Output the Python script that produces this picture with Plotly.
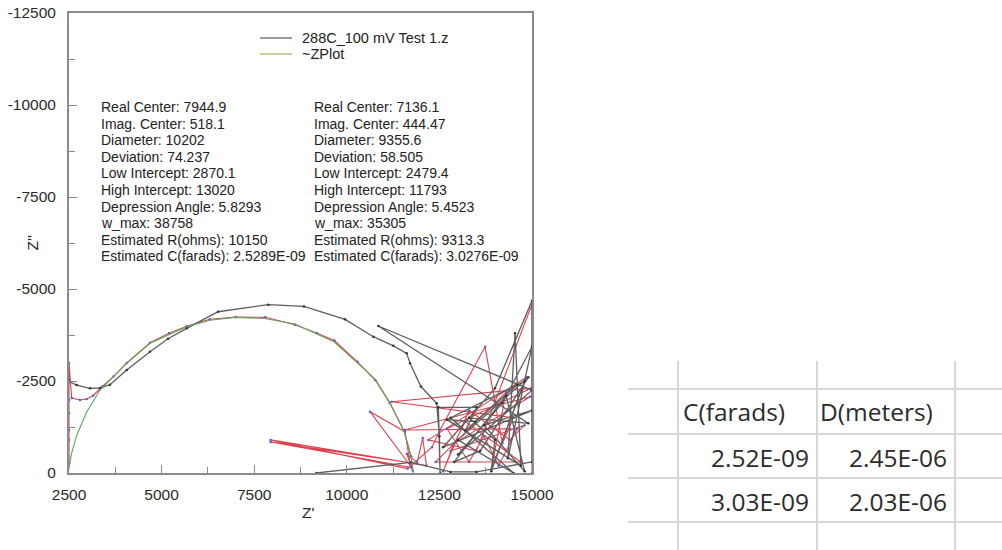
import plotly.graph_objects as go

# ---- figure size (pixels) ----
W, H = 1002, 550

# ---- axes ----
x_ticks = [2500, 5000, 7500, 10000, 12500, 15000]
x_tick_text = ["2500", "5000", "7500", "10000", "12500", "15000"]
x_minor = [3750, 6250, 8750, 11250, 13750]
y_ticks = [0, -2500, -5000, -7500, -10000, -12500]
y_tick_text = ["0", "-2500", "-5000", "-7500", "-10000", "-12500"]
y_minor = [-1250, -3750, -6250, -8750, -11250]

# ---- measured spectrum, test 1 (gray) : Z' and Z'' in ohms ----
test1_zr = [2500, 2707, 3067, 3337, 3607, 4058, 4687, 5174, 5678, 6525, 7877, 8842,
            9952, 10717, 11255, 11617, 11707, 12000, 12427, 12500, 12517, 12472, 13507,
            13200, 14600, 13462, 12700, 14700, 14542, 14350, 15000, 14200, 13000, 15000,
            10852, 14900, 13300, 14000, 13900, 14800, 12800, 14500, 13000, 14900, 13600,
            12900, 14300, 14800, 13700, 15000, 12600, 14000, 15000, 15000, 13500, 12800,
            11738, 9180]
test1_zi = [-2490, -2391, -2301, -2310, -2400, -2798, -3296, -3650, -3931, -4382, -4573, -4527,
            -4175, -3704, -3455, -3251, -2980, -2350, -1893, -1000, -10, -1784, -1784,
            -1150, -2400, -1395, -1450, -200, -3795, -400, -3432, -1900, -500, -2250,
            -3994, -1350, -1500, -900, -50, -2500, -1500, 0, -900, -2600, -600,
            -300, -2100, -50, -1300, -1700, -700, -2300, -4680, -300, -30, -30,
            -291, 0]

# ---- measured spectrum, second run (red) ----
test2_zr = [2500, 2500, 2500, 2500, 2500, 2500, 2500, 2573, 2797, 2978, 3150, 3400, 3700,
            4058, 4687, 5200, 5678, 6300, 7000, 7800, 8600, 9200, 9663, 10290, 10773,
            11159, 11545, 11738, 11780, 11620, 11900, 12050, 12150, 11707, 11572, 10627,
            11750, 7944, 11740, 7944, 11640, 12300, 12517, 13732, 14200, 14500, 11212,
            14974, 12700, 13300, 13700, 14100, 14600, 11572, 14947, 12900, 12600, 13300,
            14400, 14800, 12800, 13200, 14700, 12400, 14300, 13900, 14850, 12200, 13500,
            15000, 15000]
test2_zi = [-272, -897, -1168, -1630, -1983, -2527, -2990, -2038, -1983, -2010, -2100, -2350, -2620,
            -2990, -3540, -3800, -3990, -4180, -4240, -4230, -4030, -3800, -3600, -3020, -2520,
            -1900, -1150, -455, -60, -520, -280, -950, -200, -263, -1123, -1666,
            -150, -845, -273, -900, -120, -700, -1168, -3432, -800, -1500, -1938,
            -2300, -1200, -300, -1000, -200, -1200, -1168, -2074, -800, -50, -1700,
            -900, -1300, -600, -1400, -300, -300, -2200, -100, -2600, -900, -600,
            -4590, 0]

# ---- ~ZPlot circle fit (green) ----
fit_zr = [2480, 2560, 2707, 2978, 3337, 4058, 4687, 5678, 6300, 7000, 7780, 8600, 9663,
          10290, 10773, 11159, 11545, 11738, 11800]
fit_zi = [0, -500, -1020, -1660, -2255, -2980, -3524, -3975, -4150, -4230, -4200, -4050, -3560,
          -3000, -2545, -1920, -1130, -420, 0]

# ---- legend ----
legend_names = ["288C_100 mV Test 1.z", "~ZPlot"]
legend_colors = ["#777777", "#b8c27a"]

# ---- fit results ----
stat_names = ["Real Center", "Imag. Center", "Diameter", "Deviation", "Low Intercept",
              "High Intercept", "Depression Angle", "w_max", "Estimated R(ohms)",
              "Estimated C(farads)"]
fit1_values = ["7944.9", "518.1", "10202", "74.237", "2870.1", "13020", "5.8293", "38758",
               "10150", "2.5289E-09"]
fit2_values = ["7136.1", "444.47", "9355.6", "58.505", "2479.4", "11793", "5.4523", "35305",
               "9313.3", "3.0276E-09"]

# ---- side table ----
table_header = ["C(farads)", "D(meters)"]
table_c = ["2.52E-09", "3.03E-09"]
table_d = ["2.45E-06", "2.03E-06"]

GRAY = "#5e5e5e"
RED = "#d9434f"
GREEN = "#5ea55e"
AXIS = "#8a8a8a"
TXT = "#222222"


def fx(px):
    return px / W


def fy(py):
    return 1 - py / H


fig = go.Figure()

fig.add_trace(go.Scatter(x=test2_zr, y=test2_zi, mode="lines+markers",
                         line=dict(color=RED, width=1.1),
                         marker=dict(color="#6a5acd", size=2.5),
                         showlegend=False, hoverinfo="x+y"))
fig.add_trace(go.Scatter(x=test1_zr, y=test1_zi, mode="lines+markers",
                         line=dict(color=GRAY, width=1.3),
                         marker=dict(color="#333333", size=2.5),
                         showlegend=False, hoverinfo="x+y"))
fig.add_trace(go.Scatter(x=fit_zr, y=fit_zi, mode="lines",
                         line=dict(color=GREEN, width=1.1),
                         showlegend=False, hoverinfo="x+y"))

annotations = []
shapes = []

# legend: short line samples with names
for i, (name, col) in enumerate(zip(legend_names, legend_colors)):
    yy = 38 + i * 16
    shapes.append(dict(type="line", xref="paper", yref="paper", x0=fx(260), x1=fx(292),
                       y0=fy(yy), y1=fy(yy), line=dict(color=col, width=1.5)))
    annotations.append(dict(x=fx(300), y=fy(yy), xref="paper", yref="paper",
                            xanchor="left", yanchor="middle", showarrow=False, text=name,
                            font=dict(family="Arial", size=14.5, color=TXT)))

line_y0, line_step = 107, 16.6
for i, name in enumerate(stat_names):
    for x0, vals in ((99, fit1_values), (312, fit2_values)):
        annotations.append(dict(
            x=fx(x0), y=fy(line_y0 + i * line_step), xref="paper", yref="paper",
            xanchor="left", yanchor="middle", showarrow=False,
            text=f"{name}: {vals[i]}",
            font=dict(family="Arial", size=14, color=TXT)))

# axis titles
annotations.append(dict(x=fx(300), y=fy(523), xref="paper", yref="paper", showarrow=False,
                        text="Z'", font=dict(family="Arial", size=15.5, color=TXT)))
annotations.append(dict(x=fx(21), y=fy(243), xref="paper", yref="paper", showarrow=False,
                        text="Z''", textangle=-90, font=dict(family="Arial", size=15.5, color=TXT)))

# table text
tab_font = dict(family="Open Sans", size=24.5, color="#2b2b2b")
annotations.append(dict(x=fx(681), y=fy(411), xref="paper", yref="paper", showarrow=False,
                        xanchor="left", yanchor="middle", text=table_header[0], font=tab_font))
annotations.append(dict(x=fx(818), y=fy(411), xref="paper", yref="paper", showarrow=False,
                        xanchor="left", yanchor="middle", text=table_header[1], font=tab_font))
for r, (cv, dv) in enumerate(zip(table_c, table_d)):
    yy = 457 + r * 44
    annotations.append(dict(x=fx(811), y=fy(yy), xref="paper", yref="paper", showarrow=False,
                            xanchor="right", yanchor="middle", text=cv, font=tab_font))
    annotations.append(dict(x=fx(949), y=fy(yy), xref="paper", yref="paper", showarrow=False,
                            xanchor="right", yanchor="middle", text=dv, font=tab_font))

# table grid
for yy in (389, 434, 478, 522):
    shapes.append(dict(type="line", xref="paper", yref="paper", x0=fx(628), x1=fx(1002),
                       y0=fy(yy), y1=fy(yy), line=dict(color="#d6d6d6", width=2)))
for xx in (678, 817, 955):
    shapes.append(dict(type="line", xref="paper", yref="paper", x0=fx(xx), x1=fx(xx),
                       y0=fy(361), y1=fy(550), line=dict(color="#d6d6d6", width=2)))

fig.update_layout(
    width=W, height=H,
    margin=dict(l=0, r=0, t=0, b=0, autoexpand=False),
    paper_bgcolor="white", plot_bgcolor="white",
    annotations=annotations, shapes=shapes,
    showlegend=False,
    xaxis=dict(domain=[fx(69), fx(532)], range=[2500, 15000], automargin=False,
               tickmode="array", tickvals=x_ticks, ticktext=x_tick_text,
               ticks="inside", ticklen=8, tickwidth=1, tickcolor=AXIS,
               minor=dict(tickmode="array", tickvals=x_minor, ticks="inside",
                          ticklen=6, tickcolor=AXIS, showgrid=False),
               showline=True, linecolor=AXIS, linewidth=2, mirror=True,
               showgrid=False, zeroline=False, ticklabelstandoff=6,
               tickfont=dict(family="Arial", size=15.5, color="#2a2a2a")),
    yaxis=dict(domain=[fy(473), fy(13)], range=[0, -12500], automargin=False,
               tickmode="array", tickvals=y_ticks, ticktext=y_tick_text,
               ticks="inside", ticklen=8, tickwidth=1, tickcolor=AXIS,
               minor=dict(tickmode="array", tickvals=y_minor, ticks="inside",
                          ticklen=6, tickcolor=AXIS, showgrid=False),
               showline=True, linecolor=AXIS, linewidth=2, mirror=True,
               showgrid=False, zeroline=False, ticklabelstandoff=8,
               tickfont=dict(family="Arial", size=15.5, color="#2a2a2a")),
)

fig.write_html("out.html")
